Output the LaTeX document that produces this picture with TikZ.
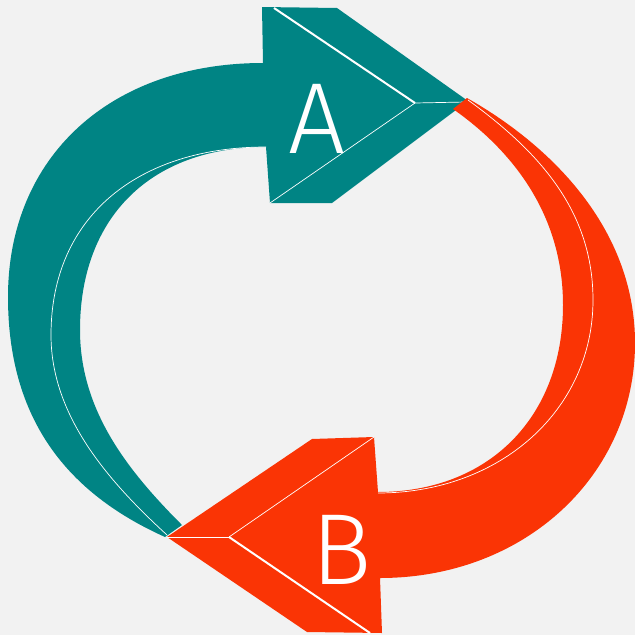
\documentclass[tikz,border=0pt]{standalone}
\usepackage{fontspec}
\newfontfamily\lblfont{Fira Sans Light}
\definecolor{teal0}{RGB}{0,132,132}
\definecolor{red0}{RGB}{250,52,5}
\definecolor{bg}{RGB}{242,242,242}
\begin{document}
\begin{tikzpicture}[x=1pt,y=-1pt,
  facet/.style={draw=white, line width=0.7pt},
  gap/.style={draw=white, line width=2pt},
  lbl/.style={text=white, font=\lblfont\fontsize{101}{101}\selectfont, inner sep=0pt, anchor=base}]
\fill[bg] (0,0) rectangle (635,635);
\useasboundingbox (0,0) rectangle (635,635);
% teal arrow
\fill[teal0] (262,7) -- (337,8) -- (468,101) -- (332,203) -- (270,203) -- (266,147)
 .. controls (151,147) and (80,217) .. (80,330)
 .. controls (80,410) and (127,470) .. (182,525)
 -- (165,537)
 .. controls (75,496.5) and (8,427) .. (8,297)
 .. controls (8,157) and (110,63) .. (263,63)
 -- cycle;
\draw[facet] (266,147) .. controls (140,147) and (51,215) .. (51,335)
 .. controls (51,415) and (107,480) .. (167,535);
\draw[gap] (274,8) -- (415,103);
\draw[facet] (415,103) -- (466,102);
\draw[facet] (415,103) -- (270,203);
% red arrow
\fill[red0] (374,437) -- (312,439) -- (167,537) -- (307,632) -- (382,633) -- (380,578)
 .. controls (525,578) and (635,475) .. (635,343)
 .. controls (635,233) and (557,149) .. (467,98)
 -- (453,109)
 .. controls (513,151) and (563,215) .. (563,305)
 .. controls (563,417) and (489,492) .. (378,492)
 -- cycle;
\draw[facet] (378,493) .. controls (500,493) and (593,410) .. (593,300)
 .. controls (593,210) and (538,151) .. (468,100);
\draw[facet] (229,537) -- (374,437);
\draw[facet] (167,537) -- (229,537);
\draw[gap] (229,537) -- (370,633);
% labels
\node[lbl] (A) at (317,153) {A};
\node[lbl] (B) at (342,584) {B};
\end{tikzpicture}
\end{document}
